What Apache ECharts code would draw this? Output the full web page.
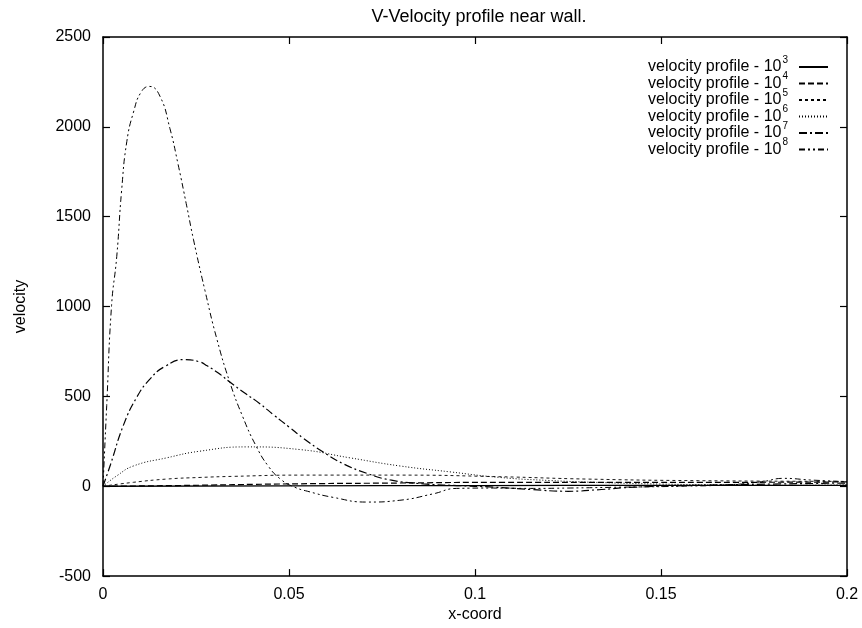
<!DOCTYPE html>
<html>
<head>
<meta charset="utf-8">
<script src="https://cdn.jsdelivr.net/npm/echarts@6/dist/echarts.min.js"></script>
<style>
html,body{margin:0;padding:0;background:#fff;}
#chart{width:862px;height:628px;}
</style>
</head>
<body>
<div id="chart"></div>
<script>
// Tick values
var xTicks = [0, 0.05, 0.1, 0.15, 0.2];
var yTicks = [-500, 0, 500, 1000, 1500, 2000, 2500];

// Series names (exponent of 10)
var exponents = ['3', '4', '5', '6', '7', '8'];

// 10^3
var x3 = [0, 0.05, 0.1, 0.15, 0.2];
var y3 = [0, 2, 4, 5, 5];
// 10^4
var x4 = [0, 0.02, 0.05, 0.08, 0.107, 0.14, 0.17, 0.2];
var y4 = [0, 4, 13, 18, 22, 22, 22, 24];
// 10^5
var x5 = [0, 0.0082, 0.0171, 0.0261, 0.035, 0.053, 0.08, 0.1067, 0.13, 0.16, 0.2];
var y5 = [0, 22, 40, 49, 55, 62, 62, 53, 40, 31, 27];
// 10^6
var x6 = [0, 0.0037, 0.0082, 0.0171, 0.026, 0.0386, 0.053, 0.0664, 0.0798, 0.0933, 0.1067, 0.12, 0.135, 0.15, 0.165, 0.183, 0.2];
var y6 = [0, 58, 113, 158, 195, 219, 204, 158, 113, 80, 49, 32, 20, 12, 8, 5, 8];
// 10^7
var x7 = [0, 0.002, 0.0055, 0.0091, 0.0126, 0.0165, 0.022, 0.026, 0.028, 0.031, 0.0341, 0.038, 0.042, 0.046, 0.05, 0.054, 0.0592, 0.0646, 0.0709, 0.0772, 0.0861, 0.0951, 0.105, 0.115, 0.125, 0.134, 0.143, 0.16, 0.18, 0.2];
var y7 = [0, 120, 340, 496, 596, 665, 705, 692, 670, 630, 580, 520, 462, 395, 330, 265, 190, 125, 72, 35, 13, 4, -5, -18, -28, -18, -5, 5, 12, 18];
// 10^8
var x8 = [0, 0.001, 0.0023, 0.0037, 0.005, 0.0064, 0.0082, 0.0103, 0.0125, 0.0153, 0.018, 0.0202, 0.0225, 0.0243, 0.0274, 0.0306, 0.0341, 0.0375, 0.041, 0.0445, 0.048, 0.0515, 0.055, 0.0619, 0.0709, 0.0798, 0.0888, 0.095, 0.105, 0.115, 0.125, 0.14, 0.155, 0.168, 0.177, 0.183, 0.19, 0.2];
var y8 = [0, 450, 1005, 1279, 1645, 1918, 2082, 2195, 2225, 2171, 1990, 1790, 1560, 1375, 1090, 820, 578, 390, 230, 110, 35, -5, -28, -62, -88, -78, -42, -12, -10, -12, -10, -5, 0, 8, 25, 44, 35, 25];

function pairs(xs, ys) { return xs.map(function (x, i) { return [x, ys[i]]; }); }

var seriesX = [x3, x4, x5, x6, x7, x8];
var seriesY = [y3, y4, y5, y6, y7, y8];
var dashTypes = ['solid', [6, 3], [3, 3], [1, 2], [8, 3, 2, 3], [6, 3, 2, 3, 2, 3]];
var widths = [1.3, 1.2, 0.9, 1.0, 1.2, 1.0];

var FONT = '"Liberation Sans", Arial, Helvetica, sans-serif';

var series = exponents.map(function (e, i) {
  return {
    name: 'velocity profile - 10{sup|' + e + '}',
    type: 'line',
    data: pairs(seriesX[i], seriesY[i]),
    showSymbol: false,
    symbol: 'circle',
    smooth: 0.5,
    lineStyle: { color: '#000', width: widths[i], type: dashTypes[i] },
    itemStyle: { color: '#000' },
    xAxisIndex: 0,
    yAxisIndex: 0,
    animation: false
  };
});

var chart = echarts.init(document.getElementById('chart'), null, { renderer: 'canvas' });
chart.setOption({
  animation: false,
  backgroundColor: '#fff',
  title: {
    text: 'V-Velocity profile near wall.',
    left: 474,
    textAlign: 'center',
    top: 3,
    textStyle: { fontFamily: FONT, fontSize: 18, fontWeight: 'normal', color: '#000' }
  },
  grid: { left: 103, right: 15, top: 37, bottom: 43, containLabel: false },
  legend: {
    right: 28,
    top: 50,
    orient: 'vertical',
    align: 'right',
    itemWidth: 29,
    itemHeight: 14,
    itemGap: -3.5,
    selectedMode: false,
    itemStyle: { opacity: 0, borderWidth: 0 },
    formatter: function (name) { return name; },
    textStyle: {
      fontFamily: FONT, fontSize: 16, color: '#000', lineHeight: 16,
      rich: {
        sup: { fontFamily: FONT, fontSize: 10, lineHeight: 10, color: '#000', verticalAlign: 'top', padding: [-4, 6, 0, 1] }
      }
    },
    data: series.map(function (s) { return s.name; })
  },
  xAxis: [{
    type: 'value', min: 0, max: 0.2, interval: 0.05, position: 'bottom',
    name: 'x-coord', nameLocation: 'middle', nameGap: 27,
    nameTextStyle: { fontFamily: FONT, fontSize: 16, color: '#000' },
    axisLine: { onZero: false, lineStyle: { color: '#000', width: 1.5 } },
    axisTick: { inside: true, length: 7, lineStyle: { color: '#000', width: 1.2 } },
    axisLabel: { fontFamily: FONT, fontSize: 16, color: '#000', margin: 10,
      formatter: function (v) { return String(v); } },
    splitLine: { show: false }
  }, {
    type: 'value', min: 0, max: 0.2, interval: 0.05, position: 'top',
    axisLine: { onZero: false, lineStyle: { color: '#000', width: 1.5 } },
    axisTick: { inside: true, length: 7, lineStyle: { color: '#000', width: 1.2 } },
    axisLabel: { show: false },
    splitLine: { show: false }
  }],
  yAxis: [{
    type: 'value', min: -500, max: 2500, interval: 500, position: 'left',
    name: 'velocity', nameLocation: 'middle', nameGap: 74, nameRotate: 90,
    nameTextStyle: { fontFamily: FONT, fontSize: 16, color: '#000' },
    axisLine: { onZero: false, lineStyle: { color: '#000', width: 1.5 } },
    axisTick: { inside: true, length: 7, lineStyle: { color: '#000', width: 1.2 } },
    axisLabel: { fontFamily: FONT, fontSize: 16, color: '#000', margin: 12,
      formatter: function (v) { return String(v); } },
    splitLine: { show: false }
  }, {
    type: 'value', min: -500, max: 2500, interval: 500, position: 'right',
    axisLine: { onZero: false, lineStyle: { color: '#000', width: 1.5 } },
    axisTick: { inside: true, length: 7, lineStyle: { color: '#000', width: 1.2 } },
    axisLabel: { show: false },
    splitLine: { show: false }
  }],
  series: series
});
</script>
</body>
</html>
